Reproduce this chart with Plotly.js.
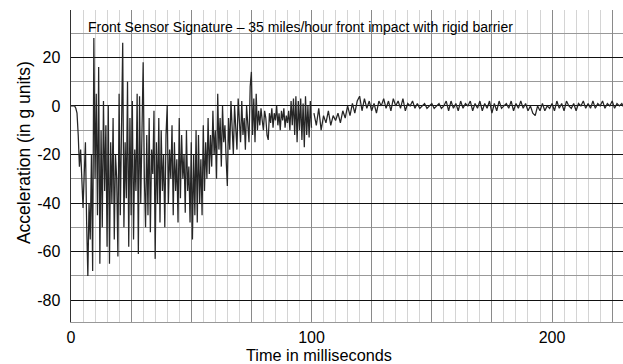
<!DOCTYPE html>
<html><head><meta charset="utf-8">
<script src="https://cdn.plot.ly/plotly-3.0.1.min.js"></script>
<style>html,body{margin:0;padding:0;background:#fff}#c{width:623px;height:364px}</style>
</head><body><div id="c"></div>
<script>
// Acceleration samples, 0 - 100 ms every 0.5 ms
const accelEarly = [
 0,0,0,0,-1,-3,-12,-25,-18,-30,
 -42,-28,-15,-48,-70,-40,-55,-20,-68,28,
 -30,5,-45,16,-65,-10,-50,2,-35,-8,
 -58,0,-65,-15,-40,-5,-55,-20,-30,-62,
 5,-45,-10,26,-50,-15,-38,10,-58,-5,
 -45,2,-55,-18,-35,5,-61,4,-40,-8,
 18,-30,-50,-12,-45,-5,-52,-18,-28,-2,
 -63,-15,-40,-5,-48,-10,-35,-20,-50,-12,
 0,-40,-18,-30,-8,-45,-15,-35,-22,-48,
 -5,-38,-12,-30,-20,-44,-10,-35,-25,-48,
 -15,-55,-20,-45,-10,-48,-12,-40,-22,-45,
 -8,-35,-15,-30,-5,-28,-12,-25,-2,-20,
 -10,-30,5,-18,-5,-25,0,-15,-8,-22,
 -33,-5,-18,2,-12,-20,0,-10,-18,3,
 -8,-15,2,-12,-5,-18,0,-10,-15,8,
 14,-12,3,-15,5,-10,-2,-8,-1,-6,
 -10,-2,-5,-12,-14,-3,-7,-1,-9,-3,
 -6,0,-8,-3,-10,-2,-6,-1,-9,-4,
 -7,-2,-10,2,-8,3,-12,4,-15,2,
 -10,3,-14,1,-17,4,-12,0,-13,2,
 -9
];
// Acceleration samples, 101 - 230 ms every 1 ms
const accelLate = [
 -3,-8,-1,-10,-4,-7,-2,-8,-4,-6,
 -3,-7,-2,-5,0,-4,1,-3,2,4,
 -2,3,-1,2,-2,1,-3,2,0,3,
 -1,2,-2,3,0,2,-1,3,-2,1,
 0,2,-1,1,-1,0,1,-1,0,1,
 -1,0,1,-1,0,2,-2,2,-1,1,
 -2,2,-1,1,0,2,-2,1,-1,2,
 -2,1,-1,2,-3,1,-2,2,-1,0,
 1,-1,2,-2,1,-1,2,-1,1,-2,
 0,-3,-4,0,-2,1,-2,0,-1,1,
 -2,2,-1,1,-2,2,0,-1,1,-2,
 1,0,2,-1,1,-1,2,-1,1,0,
 2,-1,1,0,2,-1,1,0,1,-1
];
const xTickVals = [0,25,50,75,100,125,150,175,200,225];
const xTickText = ['0','','','','100','','','','200',''];
const yTickVals = [-80,-60,-40,-20,0,20];
const yTickText = ['-80','-60','-40','-20','0','20'];
const chartTitle = 'Front Sensor Signature \u2013 35 miles/hour front impact with rigid barrier';
const xTitle = 'Time in milliseconds';
const yTitle = 'Acceleration (in g units)';

const lineStyle = {color:'#262626', width:1.25};
const traces = [
 {type:'scatter', mode:'lines', x0:0, dx:0.5, y:accelEarly, line:lineStyle, hoverinfo:'skip'},
 {type:'scatter', mode:'lines', x0:101, dx:1, y:accelLate, line:lineStyle, hoverinfo:'skip'}
];
const F = 'Arial, "Liberation Sans", sans-serif';
const layout = {
 width:623, height:364,
 margin:{l:71, r:0, t:10, b:42, pad:0},
 paper_bgcolor:'#fff', plot_bgcolor:'#fff',
 showlegend:false,
 font:{family:F, size:16, color:'#000'},
 xaxis:{range:[0,229.5], tickmode:'array', tickvals:xTickVals, ticktext:xTickText,
   showgrid:true, gridcolor:'#8a8a8a', gridwidth:1, zeroline:false,
   showline:true, linecolor:'#999', linewidth:1, ticks:'', ticklabelstandoff:1,
   tickfont:{family:F, size:16, color:'#000'},
   minor:{tickmode:'linear', tick0:0, dtick:5, showgrid:true, gridcolor:'#d4d4d4', gridwidth:1}},
 yaxis:{range:[-89,39.5], tickmode:'array', tickvals:yTickVals, ticktext:yTickText,
   showgrid:true, gridcolor:'#111', gridwidth:1, zeroline:false,
   showline:true, linecolor:'#333', linewidth:1.5, ticks:'', ticklabelstandoff:6,
   tickfont:{family:F, size:16, color:'#000'},
   minor:{tickmode:'linear', tick0:0, dtick:10, showgrid:true, gridcolor:'#999', gridwidth:1}},
 annotations:[
  {text:chartTitle, xref:'paper', yref:'paper', x:0.415, y:0.944, xanchor:'center', yanchor:'middle',
   showarrow:false, font:{family:F, size:14, color:'#000'}},
  {text:xTitle, xref:'paper', yref:'paper', x:0.449, y:-0.106, xanchor:'center', yanchor:'middle',
   showarrow:false, font:{family:F, size:16.3, color:'#000'}},
  {text:yTitle, xref:'paper', yref:'paper', x:-0.085, y:0.5417, xanchor:'center', yanchor:'middle',
   textangle:-90, showarrow:false, font:{family:F, size:17.5, color:'#000'}}
 ]
};
Plotly.newPlot('c', traces, layout, {staticPlot:true, displayModeBar:false});
</script></body></html>
